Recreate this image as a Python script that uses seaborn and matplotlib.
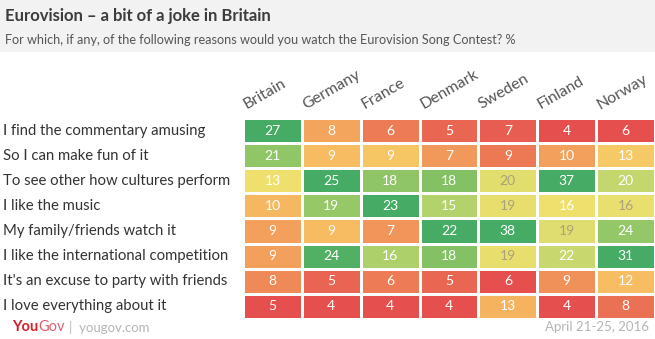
import numpy as np
import pandas as pd
import matplotlib
matplotlib.use("Agg")
import matplotlib.pyplot as plt
import matplotlib.colors as mcolors
import matplotlib.transforms as mtrans
import seaborn as sns

countries = ["Britain", "Germany", "France", "Denmark", "Sweden", "Finland", "Norway"]
reasons = [
    "I find the commentary amusing",
    "So I can make fun of it",
    "To see other how cultures perform",
    "I like the music",
    "My family/friends watch it",
    "I like the international competition",
    "It's an excuse to party with friends",
    "I love everything about it",
]
britain = [27, 21, 13, 10, 9, 9, 8, 5]
germany = [8, 9, 25, 19, 9, 24, 5, 4]
france = [6, 9, 18, 23, 7, 16, 6, 4]
denmark = [5, 7, 18, 15, 22, 18, 5, 4]
sweden = [7, 9, 20, 19, 38, 19, 6, 13]
finland = [4, 10, 37, 16, 19, 22, 9, 4]
norway = [6, 13, 20, 16, 24, 31, 12, 8]

title = "Eurovision \u2013 a bit of a joke in Britain"
subtitle = "For which, if any, of the following reasons would you watch the Eurovision Song Contest? %"
date_text = "April 21-25, 2016"

df = pd.DataFrame(
    np.array([britain, germany, france, denmark, sweden, finland, norway]).T,
    index=reasons, columns=countries,
)
# colour each country relative to its own column
norm_df = (df - df.min()) / (df.max() - df.min())

cmap = mcolors.LinearSegmentedColormap.from_list(
    "yg",
    [(0.0, "#e5504f"), (0.12, "#ee8356"), (0.24, "#f7bd62"), (0.34, "#f3e06c"),
     (0.5, "#d7dc70"), (0.66, "#a5cd6a"), (0.82, "#78bd62"), (1.0, "#45ab65")],
)

W, H = 655, 339
fig = plt.figure(figsize=(W / 100, H / 100), dpi=100)
fig.patch.set_facecolor("white")

# header band
fig.patches.append(plt.Rectangle((0, 1 - 52 / H), 1, 52 / H, transform=fig.transFigure,
                                 facecolor="#f2f2f2", edgecolor="none", zorder=0))
fig.text(5 / W, 1 - 16 / H, title, fontsize=12, fontweight="bold", color="#3c3c3c",
         family="Lato", va="center", ha="left")
fig.text(5 / W, 1 - 40 / H, subtitle, fontsize=9.1, color="#555555",
         family="Lato", va="center", ha="left")

left, right, top, bottom = 243, 655, 118, 319
ax = fig.add_axes([left / W, 1 - bottom / H, (right - left) / W, (bottom - top) / H])
sns.heatmap(norm_df, ax=ax, cmap=cmap, vmin=0, vmax=1, cbar=False,
            linewidths=2, linecolor="white", annot=df.values, fmt="d",
            annot_kws={"fontsize": 10, "family": "Lato", "color": "white"},
            xticklabels=False, yticklabels=reasons)

# annotation colours: softer text on the very light cells
for t, v in zip(ax.texts, norm_df.values.ravel()):
    if 0.37 <= v <= 0.5:
        t.set_color("#aaa27a")
    else:
        t.set_color("white")

ax.tick_params(axis="y", length=0, pad=240 * 72 / 100)
for lab in ax.get_yticklabels():
    lab.set_ha("left")
    lab.set_fontsize(10.7)
    lab.set_family("Lato")
    lab.set_color("#333333")
    lab.set_rotation(0)

trans = mtrans.blended_transform_factory(ax.transData, ax.transAxes)
for j, c in enumerate(countries):
    ax.text(j + 0.06, 1 + 9 / (bottom - top), c, transform=trans, rotation=30,
            rotation_mode="anchor", ha="left", va="baseline", fontsize=11.5,
            family="Lato", color="#555555")

# footer
fy = 1 - 327 / H
you = fig.text(12 / W, fy, "You", fontsize=10.5, fontweight="bold", color="#d6202b",
               family="Lato", va="center", ha="left")
gov = fig.text(0, fy, "Gov", fontsize=10.5, color="#e0606a", family="Lato",
               va="center", ha="left")
site = fig.text(0, fy, "|  yougov.com", fontsize=9.5, color="#b5b5b5",
                family="Lato", va="center", ha="left")
fig.canvas.draw()
r = fig.canvas.get_renderer()
bb = you.get_window_extent(r)
gov.set_position(((bb.x1 + 0.5) / W, fy))
fig.canvas.draw()
bb2 = gov.get_window_extent(r)
site.set_position(((bb2.x1 + 4) / W, fy))
fig.text(649 / W, fy, date_text, fontsize=9.5, color="#b5b5b5",
         family="Lato", va="center", ha="right")

fig.savefig("out.png", dpi=100)
